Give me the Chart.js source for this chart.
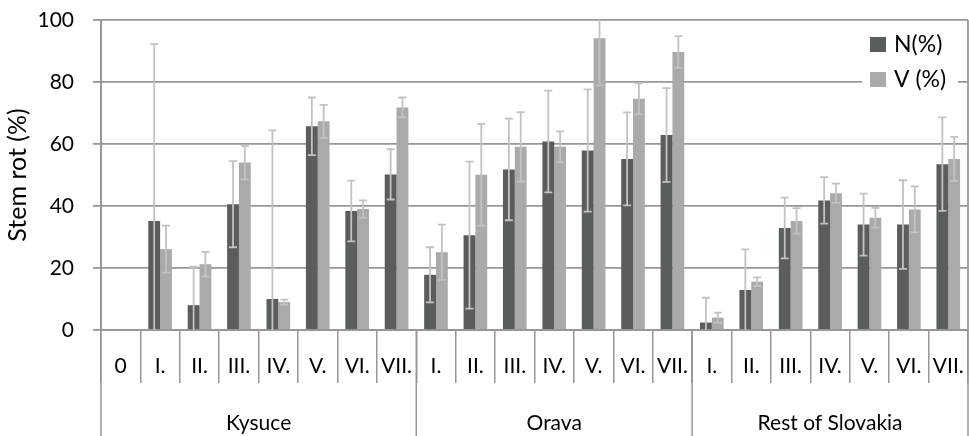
<!DOCTYPE html>
<html>
<head>
<meta charset="utf-8">
<style>
  html, body { margin: 0; padding: 0; background: #fff; }
  #wrap { width: 969px; height: 436px; }
</style>
<script src="https://cdn.jsdelivr.net/npm/chart.js@4.4.1/dist/chart.umd.min.js"></script>
</head>
<body>
<div id="wrap"><canvas id="stemChart" width="969" height="436"></canvas></div>
<script>
const categories = ["0", "I.", "II.", "III.", "IV.", "V.", "VI.", "VII.",
                    "I.", "II.", "III.", "IV.", "V.", "VI.", "VII.",
                    "I.", "II.", "III.", "IV.", "V.", "VI.", "VII."];
const groups = ["Kysuce", "Orava", "Rest of Slovakia"];
const groupSizes = [8, 7, 7];

const nValues = [0, 35.2, 8.0, 40.6, 10.0, 65.7, 38.4, 50.2,
                 17.8, 30.6, 51.8, 60.8, 57.9, 55.2, 62.9,
                 2.4, 12.9, 32.9, 41.8, 34.0, 34.0, 53.5];
const nErrors = [0, 57, 12.4, 13.9, 54.4, 9.3, 9.8, 8.1,
                 8.9, 23.7, 16.4, 16.4, 19.7, 15.0, 15.1,
                 8.0, 13.1, 9.8, 7.5, 10.0, 14.3, 15.1];
const vValues = [0, 26.1, 21.2, 54.0, 9.0, 67.3, 39.0, 71.8,
                 25.1, 50.1, 59.1, 59.1, 94.1, 74.6, 89.7,
                 4.0, 15.6, 35.2, 44.1, 36.2, 38.9, 55.2];
const vErrors = [0, 7.6, 4.0, 5.4, 0.8, 5.3, 2.8, 3.2,
                 8.9, 16.4, 11.2, 5.0, 15.2, 5.0, 5.1,
                 1.6, 1.4, 4.1, 3.1, 3.2, 7.4, 7.1];
const yTicks = [0, 20, 40, 60, 80, 100];

const FONT = "Lato";
const GRID = "#969797";
const DARK = "#595d5e";
const LIGHT = "#a9abab";

// error bars drawn over the bars, clipped to the plot area
const errorBars = {
    id: "errorBars",
    afterDatasetsDraw(chart) {
        const ctx = chart.ctx;
        const y = chart.scales.y;
        const errs = [nErrors, vErrors];
        ctx.save();
        ctx.strokeStyle = "#c2c2c2";
        ctx.lineWidth = 1.8;
        chart.data.datasets.forEach((ds, i) => {
            const meta = chart.getDatasetMeta(i);
            meta.data.forEach((bar, j) => {
                const e = errs[i][j];
                if (!e) return;
                const v = ds.data[j];
                const hi = v + e, lo = v - e;
                const yHi = y.getPixelForValue(Math.min(hi, y.max));
                const yLo = y.getPixelForValue(Math.max(lo, y.min));
                ctx.beginPath();
                ctx.moveTo(bar.x, yHi);
                ctx.lineTo(bar.x, yLo);
                if (hi <= y.max) {
                    ctx.moveTo(bar.x - 4, yHi);
                    ctx.lineTo(bar.x + 4, yHi);
                }
                if (lo >= y.min) {
                    ctx.moveTo(bar.x - 4, yLo);
                    ctx.lineTo(bar.x + 4, yLo);
                }
                ctx.stroke();
            });
        });
        ctx.restore();
    }
};

// second level of the category axis, right border and legend
const extras = {
    id: "extras",
    afterDraw(chart) {
        const ctx = chart.ctx;
        const x = chart.scales.x;
        const area = chart.chartArea;
        ctx.save();

        ctx.strokeStyle = GRID;
        ctx.lineWidth = 1.8;
        ctx.beginPath();
        ctx.moveTo(area.right, area.top);
        ctx.lineTo(area.right, area.bottom);
        ctx.stroke();

        ctx.lineWidth = 1.5;
        ctx.fillStyle = "#000";
        ctx.font = "21px " + FONT;
        ctx.textAlign = "center";
        ctx.textBaseline = "middle";
        let start = 0;
        const edges = [x.getPixelForValue(-0.5)];
        groups.forEach((g, k) => {
            const end = start + groupSizes[k];
            const x0 = x.getPixelForValue(start - 0.5);
            const x1 = x.getPixelForValue(end - 0.5);
            edges.push(x1);
            ctx.fillText(g, (x0 + x1) / 2, 423);
            start = end;
        });
        edges.forEach(px => {
            ctx.beginPath();
            ctx.moveTo(px, area.bottom);
            ctx.lineTo(px, chart.height);
            ctx.stroke();
        });

        // legend
        ctx.fillStyle = "#fff";
        ctx.fillRect(862, 28, 96, 66);
        const items = [["N(%)", DARK, 45], ["V (%)", LIGHT, 80]];
        ctx.font = "23px " + FONT;
        ctx.textAlign = "left";
        items.forEach(([label, color, cy]) => {
            ctx.fillStyle = color;
            ctx.fillRect(870, cy - 8, 16, 15);
            ctx.fillStyle = "#000";
            ctx.fillText(label, 894, cy);
        });
        ctx.restore();
    }
};

new Chart(document.getElementById("stemChart"), {
    type: "bar",
    data: {
        labels: categories,
        datasets: [
            { label: "N(%)", data: nValues, backgroundColor: DARK },
            { label: "V (%)", data: vValues, backgroundColor: LIGHT }
        ]
    },
    options: {
        responsive: false,
        animation: false,
        categoryPercentage: 0.6,
        barPercentage: 1.0,
        layout: { padding: { top: 20, right: 1, left: 0, bottom: 0 } },
        plugins: {
            legend: { display: false },
            tooltip: { enabled: false }
        },
        scales: {
            x: {
                afterFit(scale) { scale.height = 106; },
                grid: {
                    offset: true,
                    drawOnChartArea: false,
                    drawTicks: true,
                    tickLength: 53,
                    color: GRID,
                    lineWidth: 1.5
                },
                border: { color: GRID, width: 2 },
                ticks: {
                    padding: -29,
                    maxRotation: 0,
                    autoSkip: false,
                    color: "#000",
                    font: { family: FONT, size: 21 }
                }
            },
            y: {
                min: 0,
                max: 100,
                afterFit(scale) {
                    scale.width = 101;
                    scale.paddingTop = 12;
                    scale.paddingBottom = 12;
                },
                afterBuildTicks(scale) { scale.ticks = yTicks.map(v => ({ value: v })); },
                grid: { color: GRID, lineWidth: 1.8, tickLength: 8 },
                border: { color: GRID, width: 2 },
                ticks: {
                    padding: 19,
                    color: "#000",
                    font: { family: FONT, size: 21 }
                },
                title: {
                    display: true,
                    text: "Stem rot (%)",
                    color: "#000",
                    font: { family: FONT, size: 25 },
                    padding: { top: 3, bottom: 0 }
                }
            }
        }
    },
    plugins: [errorBars, extras]
});
</script>
</body>
</html>
